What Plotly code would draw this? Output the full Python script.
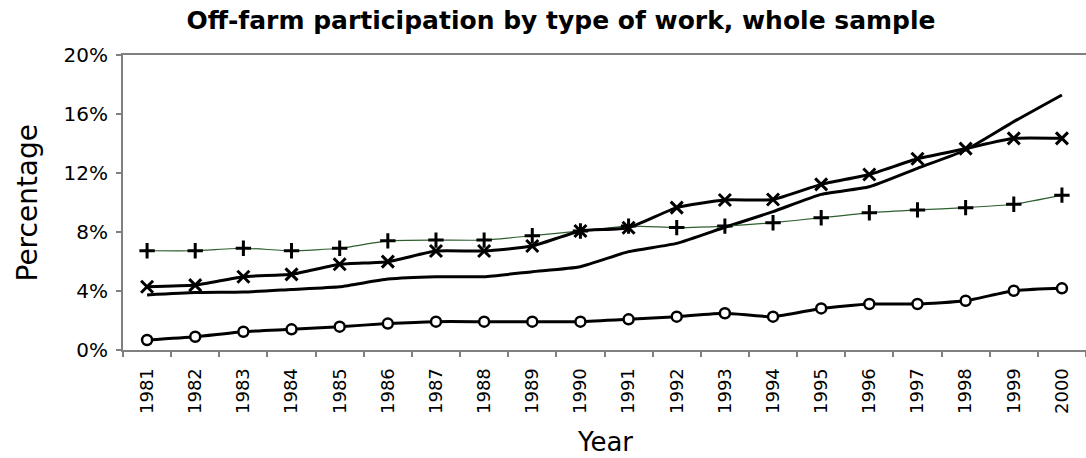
import plotly.graph_objects as go

years = [str(y) for y in range(1981, 2001)]

# Series values in percent
plus_series = [6.73, 6.73, 6.9, 6.73, 6.9, 7.4, 7.45, 7.45, 7.75, 8.07,
               8.4, 8.3, 8.4, 8.63, 8.97, 9.3, 9.5, 9.65, 9.88, 10.5]
x_series = [4.29, 4.4, 4.97, 5.13, 5.81, 5.99, 6.71, 6.71, 7.05, 8.07,
            8.29, 9.65, 10.17, 10.2, 11.23, 11.9, 12.97, 13.65, 14.35, 14.35]
line_series = [3.73, 3.89, 3.93, 4.11, 4.29, 4.81, 4.97, 4.97, 5.31, 5.65,
               6.67, 7.23, 8.32, 9.38, 10.55, 11.07, 12.32, 13.56, 15.48, 17.29]
circle_series = [0.68, 0.9, 1.24, 1.4, 1.58, 1.79, 1.92, 1.92, 1.92, 1.92,
                 2.08, 2.26, 2.49, 2.26, 2.82, 3.12, 3.12, 3.34, 4.02, 4.18]

y_ticks = [0, 4, 8, 12, 16, 20]
y_tick_labels = ["0%", "4%", "8%", "12%", "16%", "20%"]

FONT = "DejaVu Sans, Liberation Sans, Arial, sans-serif"
SMOOTH = 0.5

fig = go.Figure()

fig.add_trace(go.Scatter(
    x=years, y=line_series, mode="lines", name="Series 3",
    line=dict(color="black", width=3, shape="spline", smoothing=SMOOTH),
))
fig.add_trace(go.Scatter(
    x=years, y=plus_series, mode="lines+markers", name="Series 1",
    line=dict(color="#2f5f2f", width=1.2, shape="spline", smoothing=SMOOTH),
    marker=dict(symbol="cross-thin", size=11, color="black",
                line=dict(color="black", width=3)),
))
fig.add_trace(go.Scatter(
    x=years, y=x_series, mode="lines+markers", name="Series 2",
    line=dict(color="black", width=3, shape="spline", smoothing=SMOOTH),
    marker=dict(symbol="x-thin", size=12, color="black",
                line=dict(color="black", width=3)),
))
fig.add_trace(go.Scatter(
    x=years, y=circle_series, mode="lines+markers", name="Series 4",
    line=dict(color="black", width=3, shape="spline", smoothing=SMOOTH),
    marker=dict(symbol="circle", size=10, color="white",
                line=dict(color="black", width=2.5)),
))

fig.update_layout(
    width=1086, height=458,
    margin=dict(l=123, r=0, t=55, b=108),
    paper_bgcolor="white", plot_bgcolor="white",
    showlegend=False,
    font=dict(family=FONT, color="black"),
    title=dict(
        text="<b>Off-farm participation by type of work, whole sample</b>",
        font=dict(family=FONT, size=25, color="black"),
        x=561 / 1086, xanchor="center", xref="container",
        y=1 - 20 / 458, yanchor="middle", yref="container",
    ),
    xaxis=dict(
        type="category",
        range=[-0.5, len(years) - 0.5],
        showline=True, linecolor="#808080", linewidth=2, mirror=True,
        ticks="outside", ticklen=5, tickcolor="#808080", tickwidth=1.5,
        tickson="boundaries",
        tickangle=-90,
        ticklabelstandoff=9,
        tickfont=dict(family=FONT, size=18, color="black"),
        showgrid=False, zeroline=False,
    ),
    yaxis=dict(
        range=[0, 20],
        tickmode="array", tickvals=y_ticks, ticktext=y_tick_labels,
        showline=True, linecolor="#808080", linewidth=2,
        ticks="outside", ticklen=5, tickcolor="#808080", tickwidth=1.5,
        ticklabelstandoff=4,
        tickfont=dict(family=FONT, size=20, color="black"),
        showgrid=False, zeroline=False,
    ),
    annotations=[
        dict(text="Percentage", xref="paper", yref="paper",
             x=0, y=0.5, xshift=-96, xanchor="center", yanchor="middle",
             textangle=-90, showarrow=False,
             font=dict(family=FONT, size=28, color="black")),
        dict(text="Year", xref="paper", yref="paper",
             x=0.5, y=0, yshift=-(442 - 350.5), xanchor="center", yanchor="middle",
             showarrow=False,
             font=dict(family=FONT, size=26, color="black")),
    ],
)

fig.write_html("out.html")
